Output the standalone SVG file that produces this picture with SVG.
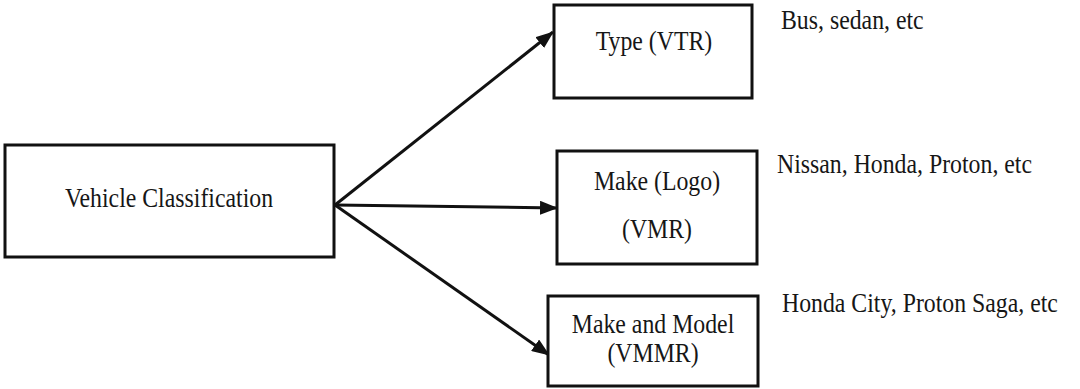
<svg xmlns="http://www.w3.org/2000/svg" width="1080" height="389" viewBox="0 0 1080 389">
  <style>
    .box { fill: #ffffff; stroke: #111111; stroke-width: 3; }
    .lbl { font-family: "Liberation Serif", "Times New Roman", serif; font-size: 28px; fill: #161616; }
    .mid { text-anchor: middle; }
    .edge { stroke: #111111; stroke-width: 3; fill: none; }
  </style>
  <defs>
    <marker id="arrow" markerUnits="userSpaceOnUse" markerWidth="18" markerHeight="14" viewBox="0 0 18 14" refX="17" refY="7" orient="auto">
      <path d="M0,0 L18,7 L0,14 Z" fill="#111111"/>
    </marker>
  </defs>
  <rect width="1080" height="389" fill="#ffffff"/>

  <g id="connectors">
    <line class="edge" x1="335" y1="205" x2="553" y2="32" marker-end="url(#arrow)"/>
    <line class="edge" x1="335" y1="205" x2="557" y2="208" marker-end="url(#arrow)"/>
    <line class="edge" x1="335" y1="205" x2="549" y2="355" marker-end="url(#arrow)"/>
  </g>

  <g id="vehicle-classification">
    <rect class="box" x="5" y="145" width="329" height="112"/>
    <text class="lbl mid" transform="translate(169,207) scale(0.85,1)">Vehicle Classification</text>
  </g>

  <g id="type-vtr">
    <rect class="box" x="554" y="5" width="198" height="93"/>
    <text class="lbl mid" transform="translate(654,50) scale(0.85,1)">Type (VTR)</text>
  </g>

  <g id="make-vmr">
    <rect class="box" x="557" y="151" width="200" height="113"/>
    <text class="lbl mid" transform="translate(657,190) scale(0.85,1)">Make (Logo)</text>
    <text class="lbl mid" transform="translate(657,238) scale(0.85,1)">(VMR)</text>
  </g>

  <g id="make-model-vmmr">
    <rect class="box" x="548" y="296" width="210" height="90"/>
    <text class="lbl mid" transform="translate(653,333) scale(0.85,1)">Make and Model</text>
    <text class="lbl mid" transform="translate(653,362) scale(0.85,1)">(VMMR)</text>
  </g>

  <g id="examples">
    <text class="lbl" transform="translate(781,29) scale(0.85,1)">Bus, sedan, etc</text>
    <text class="lbl" transform="translate(777,173) scale(0.85,1)">Nissan, Honda, Proton, etc</text>
    <text class="lbl" transform="translate(782,312) scale(0.85,1)">Honda City, Proton Saga, etc</text>
  </g>
</svg>
